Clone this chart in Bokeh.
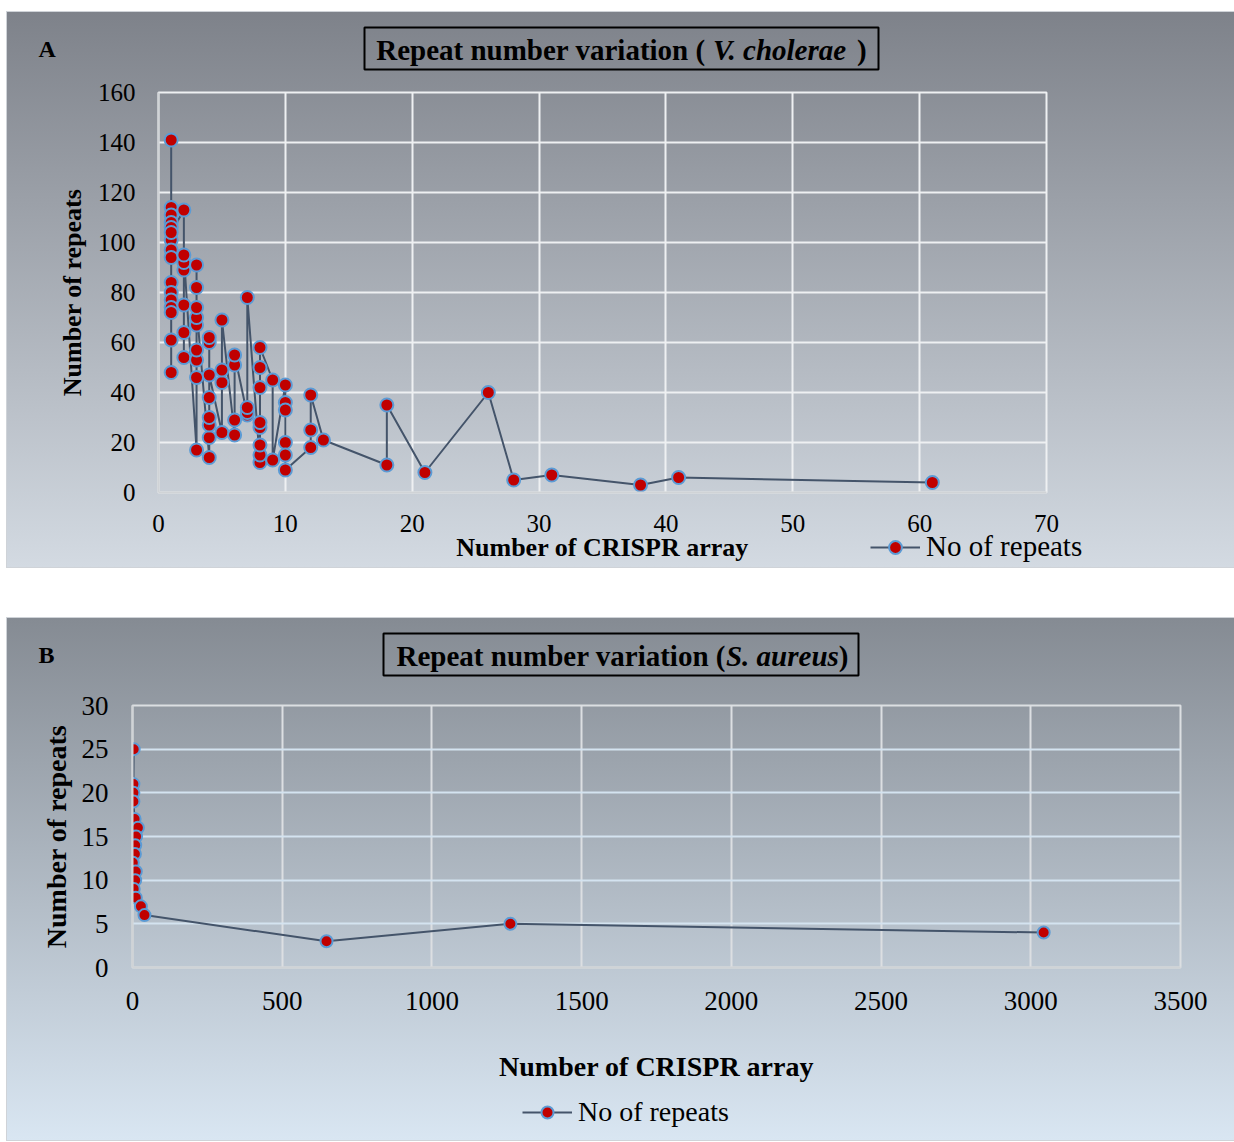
from bokeh.plotting import figure
from bokeh.models import Label, BoxAnnotation, Legend, LegendItem, Range1d, FixedTicker, Spacer, GridBox
from bokeh.layouts import column, row
from bokeh.embed import file_html
from bokeh.resources import INLINE

# ---------------- data ----------------
vc_arrays = [1]*16 + [2]*7 + [3]*9 + [4]*8 + [5]*4 + [6]*4 + [7]*4 + [8]*8 + [9]*2 + [10]*6 + [12]*3 + [13, 18, 18, 21, 26, 28, 31, 38, 41, 61]
vc_repeats = [141, 114, 111, 108, 106, 101, 97, 94, 84, 80, 77, 74, 72, 61, 48, 104,
              113, 54, 64, 75, 89, 92, 95,
              17, 46, 53, 57, 67, 70, 82, 91, 74,
              14, 22, 27, 30, 38, 60, 62, 47,
              24, 44, 49, 69,
              23, 29, 51, 55,
              31, 32, 34, 78,
              12, 15, 19, 26, 28, 42, 50, 58,
              45, 13,
              43, 36, 33, 20, 15, 9,
              18, 25, 39,
              21, 11, 35, 8, 40, 5, 7, 3, 6, 4]

sa_arrays = [4, 3, 3, 3, 7, 18, 12, 9, 8, 1, 11, 9, 4, 11, 28, 40, 648, 1262, 3043]
sa_repeats = [25, 21, 20, 19, 17, 16, 15, 14, 13, 12, 11, 10, 9, 8, 7, 6, 3, 5, 4]

vc_xticks = [0, 10, 20, 30, 40, 50, 60, 70]
vc_yticks = [0, 20, 40, 60, 80, 100, 120, 140, 160]
sa_xticks = [0, 500, 1000, 1500, 2000, 2500, 3000, 3500]
sa_yticks = [0, 5, 10, 15, 20, 25, 30]

series_label = "No of repeats"
xlabel = "Number of CRISPR array"
ylabel = "Number of repeats"

SERIF = "Liberation Serif"
LINE_COLOR = "#44546a"
MARK_FILL = "#c00000"
MARK_EDGE = "#5b9bd5"

BOLD = {' ': 250, 'R': 722, 'e': 444, 'p': 556, 'a': 500, 't': 333, 'n': 556, 'u': 556, 'm': 833,
        'b': 556, 'r': 444, 'v': 500, 'i': 278, 'o': 500, '(': 333, ')': 333}
BI = {'V': 667, '.': 250, ' ': 250, 'c': 444, 'h': 556, 'o': 500, 'l': 278, 'e': 444, 'r': 389,
      'a': 500, 'S': 556, 'u': 556, 's': 389}


def tw(s, table, size):
    return sum(table.get(c, 500) for c in s) * size / 1000.0


def make_main(cfg):
    W, H = 1227, cfg["height"]
    L, R, T, B = cfg["frame"]
    xmin, xmax = cfg["xr"]
    ymin, ymax = cfg["yr"]
    p = figure(width=W, height=H, x_range=Range1d(xmin, xmax), y_range=Range1d(ymin, ymax),
               output_backend="svg", toolbar_location=None,
               min_border_left=L, min_border_right=W - R, min_border_top=T, min_border_bottom=H - B)
    p.frame_align = False
    p.background_fill_alpha = 0
    p.border_fill_alpha = 0
    p.styles = {"background-image": cfg["gradient"], "outline": "1px solid #cfd3d8"}
    p.outline_line_color = cfg["vgrid"]
    p.outline_line_width = 2

    for ax, ticks in ((p.xaxis[0], cfg["xticks"]), (p.yaxis[0], cfg["yticks"])):
        ax.ticker = FixedTicker(ticks=ticks)
        ax.major_tick_line_color = None
        ax.minor_tick_line_color = None
        ax.axis_line_color = "#d0d3d6"
        ax.axis_line_width = 2
        ax.major_label_text_font = SERIF
        ax.major_label_text_font_size = cfg["tick_size"]
        ax.major_label_text_color = "black"
        ax.axis_label_text_font = SERIF
        ax.axis_label_text_font_style = "bold"
        ax.axis_label_text_font_size = cfg["title_size"]
        ax.axis_label_text_color = "black"
    p.xaxis.axis_label = xlabel
    p.yaxis.axis_label = ylabel
    p.xaxis.major_label_standoff = cfg["xstand"]
    p.yaxis.major_label_standoff = cfg["ystand"]
    p.xaxis.axis_label_standoff = cfg["xlstand"]
    p.yaxis.axis_label_standoff = cfg["ylstand"]

    p.xgrid.ticker = FixedTicker(ticks=cfg["xticks"])
    p.ygrid.ticker = FixedTicker(ticks=cfg["yticks"])
    p.xgrid.grid_line_color = cfg["vgrid"]
    p.xgrid.grid_line_width = 2
    p.ygrid.grid_line_color = cfg["hgrid"]
    p.ygrid.grid_line_width = 2

    p.line(cfg["x"], cfg["y"], line_color=LINE_COLOR, line_width=2)
    p.scatter(cfg["x"], cfg["y"], size=cfg["msize"], fill_color=MARK_FILL,
              line_color=MARK_EDGE, line_width=2)
    return p


def make_deco(cfg):
    """Transparent overlay holding the boxed title, panel letter and legend."""
    W, H = 1227, cfg["height"]
    d = figure(width=W, height=H, x_range=Range1d(0, W), y_range=Range1d(H, 0),
               x_axis_type=None, y_axis_type=None, output_backend="svg", toolbar_location=None,
               min_border=0)
    d.frame_align = False
    d.background_fill_alpha = 0
    d.border_fill_alpha = 0
    d.outline_line_color = None
    d.grid.visible = False

    d.add_layout(Label(x=31, y=36, text=cfg["letter"], text_font=SERIF, text_font_style="bold",
                       text_font_size="24px", text_color="black", text_baseline="middle"))

    bx0, bx1, by0, by1 = cfg["tbox"]
    d.add_layout(BoxAnnotation(left=bx0, right=bx1, top=by0, bottom=by1,
                               fill_alpha=0, line_color="black", line_alpha=1.0, line_width=2))
    size = cfg["tsize"]
    parts = cfg["tparts"]
    gap = cfg["tgap"] * size
    widths = [tw(parts[0], BOLD, size), tw(parts[1], BI, size), tw(parts[2], BOLD, size)]
    total = sum(widths) + 2 * gap
    start = cfg["tcenter"] - total / 2
    cy = (by0 + by1) / 2 + 1
    xs = [start, start + widths[0] + gap, start + widths[0] + widths[1] + 2 * gap]
    styles = ["bold", "bold italic", "bold"]
    for t, xx, st in zip(parts, xs, styles):
        d.add_layout(Label(x=xx, y=cy, text=t, text_font=SERIF, text_font_style=st,
                           text_font_size="%dpx" % size, text_color="black",
                           text_align="left", text_baseline="middle"))

    # legend sample renderers (no visible data of their own)
    nan = float("nan")
    lr = d.line([nan], [nan], line_color=LINE_COLOR, line_width=2)
    sr = d.scatter([nan], [nan], size=cfg["msize"], fill_color=MARK_FILL, line_color=MARK_EDGE, line_width=2)
    leg = Legend(items=[LegendItem(label=series_label, renderers=[lr, sr])],
                 location=cfg["legend_loc"], orientation="horizontal",
                 background_fill_alpha=0, border_line_color=None, padding=0, margin=0,
                 glyph_width=50, glyph_height=int(cfg["msize"] / 0.4), label_standoff=6,
                 label_text_font=SERIF, label_text_font_size=cfg["legend_size"],
                 label_text_color="black")
    d.add_layout(leg)
    return d


def make_panel(cfg):
    main = make_main(cfg)
    deco = make_deco(cfg)
    return GridBox(children=[(main, 0, 0), (deco, 0, 0)], width=1227, height=cfg["height"])


cfg_a = dict(
    height=555, frame=(151, 1039, 80, 480), xr=(0, 70), yr=(0, 160),
    gradient="linear-gradient(to bottom, #7e828a, #d3dae2)",
    vgrid="#eef0f2", hgrid="#eef0f2",
    xticks=vc_xticks, yticks=vc_yticks, x=vc_arrays, y=vc_repeats,
    tick_size="25px", title_size="26px", legend_size="29px",
    xstand=16, ystand=17, xlstand=-2, ylstand=8, msize=13,
    legend_loc=(863, 4), letter="A",
    tbox=(357, 871, 15, 57), tcenter=614, tsize=29, tgap=0.25,
    tparts=["Repeat number variation (", "V. cholerae", ")"],
)

cfg_b = dict(
    height=522, frame=(125, 1173, 87, 349), xr=(0, 3500), yr=(0, 30),
    gradient="linear-gradient(to bottom, #858b93, #d9e6f2)",
    vgrid="#dcdfe2", hgrid="#d4e3f0",
    xticks=sa_xticks, yticks=sa_yticks, x=sa_arrays, y=sa_repeats,
    tick_size="27px", title_size="28px", legend_size="28px",
    xstand=18, ystand=18, xlstand=38, ylstand=7, msize=12,
    legend_loc=(515, 12), letter="B",
    tbox=(376, 851, 15, 57), tcenter=615, tsize=29, tgap=0.0,
    tparts=["Repeat number variation (", "S. aureus", ")"],
)

panel_a = make_panel(cfg_a)
panel_b = make_panel(cfg_b)

layout = row(Spacer(width=7), column(Spacer(height=12), panel_a, Spacer(height=51), panel_b, spacing=0), spacing=0)
open("out.html", "w").write(file_html(layout, INLINE))
